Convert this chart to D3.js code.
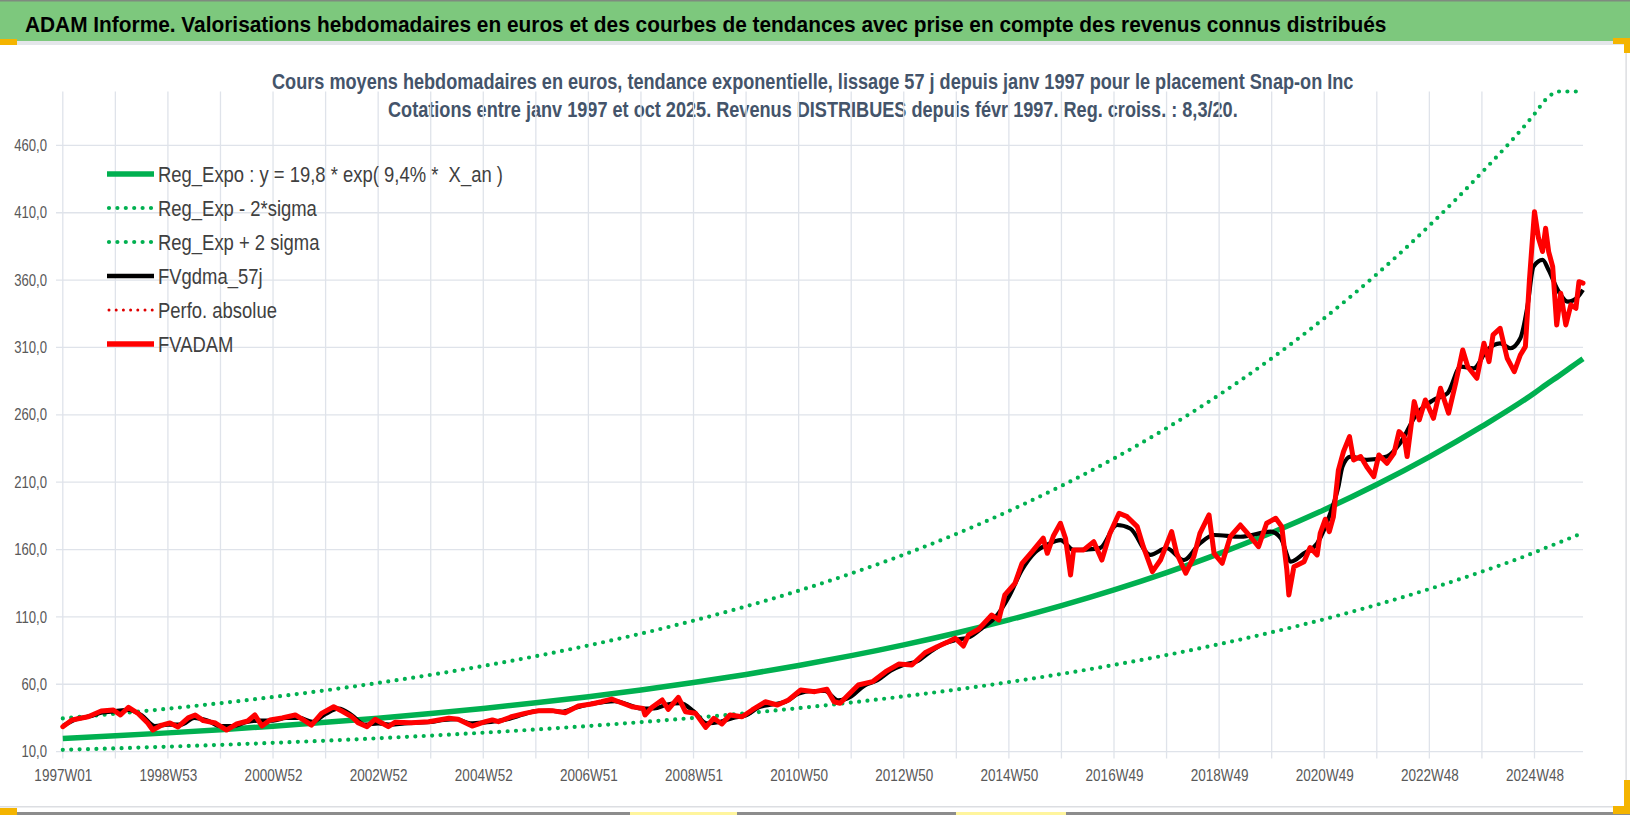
<!DOCTYPE html>
<html>
<head>
<meta charset="utf-8">
<script src="https://cdn.jsdelivr.net/npm/d3@7"></script>
<style>
  html, body { margin: 0; padding: 0; background: #fff; }
  svg { display: block; }
  text { font-family: "Liberation Sans", Arial, sans-serif; }
</style>
</head>
<body>
<div id="chart"></div>
<script>
// ---- data (x = week index since 1997W01) ----
const weekLabels = ["1997W01", "1998W53", "2000W52", "2002W52", "2004W52", "2006W51", "2008W51",
  "2010W50", "2012W50", "2014W50", "2016W49", "2018W49", "2020W49", "2022W48", "2024W48"];
const labelWeeks = weekLabels.map((d, i) => i * 104);
const gridWeeks = d3.range(0, 1457, 52);
const lastWeek = 1504;
const yTicks = [10, 60, 110, 160, 210, 260, 310, 360, 410, 460];

const trendWeeks = [0, 52, 104, 156, 208, 260, 312, 364, 416, 468, 520, 572, 624, 676, 728, 780,
  832, 884, 936, 988, 1040, 1092, 1144, 1196, 1248, 1300, 1352, 1404, 1456, 1468, 1480, 1492, 1504];
const regExpo = [19.8, 21.75, 23.9, 26.26, 28.85, 31.7, 34.83, 38.26, 42.04, 46.19, 50.75, 55.75,
  61.26, 67.3, 73.95, 81.24, 89.26, 98.07, 107.75, 118.39, 130.07, 142.91, 157.01, 172.51, 189.53,
  208.24, 228.79, 251.37, 276.19, 282.7, 288.9, 295.3, 301.7];
const regLow = [11.31, 12.43, 13.66, 15.01, 16.49, 18.11, 19.9, 21.86, 24.02, 26.39, 29.0, 31.86,
  35.01, 38.46, 42.26, 46.42, 51.01, 56.04, 61.57, 67.65, 74.33, 81.66, 89.72, 98.58, 108.3, 119.0,
  130.7, 143.6, 157.8, 161.5, 165.1, 168.7, 172.4];
const regHigh = [34.65, 38.06, 41.83, 45.96, 50.49, 55.48, 60.95, 66.96, 73.57, 80.83, 88.81, 97.56,
  107.2, 117.8, 129.4, 142.2, 156.2, 171.6, 188.6, 207.2, 227.6, 250.1, 274.8, 301.9, 331.7, 364.4,
  400.4, 439.9, 483.3, 494.7, 505.6, 516.8, 528.0];

const fvadam = [[0,28.5],[9,33.5],[25,35.9],[38,40.1],[50,40.9],[57,37.2],[65,42.9],[74,38.6],[84,31.2],
  [89,26],[98,29.7],[106,31.2],[114,28.3],[124,35],[131,37.2],[139,33],[151,31.2],[162,26],[172,30.5],
  [183,32.7],[190,37.2],[197,29],[205,33.5],[217,35],[230,37.2],[238,33.5],[246,29.7],[256,38.4],
  [268,43.3],[276,40.1],[286,35.9],[292,31.5],[301,28.5],[309,34],[322,28.5],[329,31.8],[345,31.5],
  [362,32.2],[382,34.7],[391,34],[405,29],[418,32.2],[425,33.5],[431,32.2],[444,35.9],[457,38.4],
  [471,40.4],[484,40.4],[497,38.9],[510,43.9],[523,45.3],[533,47],[543,49],[550,47],[563,43.3],
  [574,42.1],[576,37.2],[583,42.9],[593,48.3],[599,41.4],[609,50.3],[616,39.6],[626,38.4],[636,28],
  [644,34.7],[652,30.5],[660,37.2],[672,35.9],[682,40.9],[695,47],[707,44.6],[718,48.3],[730,55.7],
  [744,54.5],[756,56.3],[763,47],[769,45.9],[777,52],[787,59.4],[801,61.9],[814,69.3],[827,75],
  [840,74.3],[853,83.4],[865,87.9],[876,91.6],[883,94.1],[891,88.4],[896,96.6],[906,100.8],[919,111.4],
  [926,107.7],[932,126.3],[942,134.9],[949,149.8],[959,158.4],[970,168.4],[974,157.2],[980,170],
  [987,179.5],[992,168.4],[997,141.1],[1000,159.7],[1010,159.7],[1020,165.8],[1028,152.2],[1036,172],
  [1045,186.9],[1053,184.4],[1063,177],[1069,162.1],[1078,143.6],[1086,152.2],[1097,173.3],[1102,157.2],
  [1111,142.4],[1119,154.7],[1125,172],[1134,185.7],[1139,157.2],[1147,149.8],[1155,169.5],[1165,178.2],
  [1175,169.5],[1183,162.1],[1191,179.5],[1200,183.2],[1206,177],[1211,144.8],[1213,126.3],[1218,147.3],
  [1228,151],[1234,161.5],[1241,156],[1244,172],[1249,182.5],[1253,173.3],[1257,184],[1262,219],
  [1267,232.6],[1273,243.8],[1277,226.5],[1284,229],[1290,221.5],[1297,214.1],[1302,230.2],[1310,224],
  [1317,231.5],[1322,247.5],[1327,243.8],[1330,229],[1337,269.8],[1342,256.2],[1348,271],[1356,257.4],
  [1363,279.7],[1371,261.2],[1378,283.4],[1385,308.1],[1390,295.7],[1399,287.1],[1406,313.1],
  [1411,299.5],[1415,319.3],[1422,324.2],[1429,302],[1436,292],[1442,304.4],[1447,310.6],[1451,360],
  [1456,410.8],[1460,391],[1464,381.2],[1467,398.5],[1470,381.2],[1474,370],[1478,326.7],[1482,350.2],
  [1487,326.7],[1492,341.6],[1497,339.1],[1500,358.8],[1504,357.7]];

const fvgdma = [[0,29],[13,34],[26,36],[39,39],[52,40],[65,41],[78,37],[91,29],[104,30],[117,30],
  [130,35],[143,33],[156,29],[169,29],[182,32],[195,33],[208,33],[221,35],[234,35],[247,32],[260,38],
  [273,42],[286,37],[299,30],[312,31],[325,30],[338,31],[351,31.5],[364,32],[377,33.5],[390,34],
  [403,31],[416,31.5],[429,32.5],[442,34.5],[455,37.5],[468,40],[481,40.5],[494,39.5],[507,42.5],
  [520,45],[533,46.5],[546,47.5],[559,45],[572,42],[585,42],[598,45],[611,46],[624,40],[637,31],
  [650,32],[663,35],[676,37],[689,43],[702,45],[715,47],[728,53],[741,55],[754,55],[767,48],[780,51],
  [793,59],[806,63],[819,70],[832,74.5],[845,77],[858,84],[871,90],[884,93],[897,95],[910,102],
  [923,110],[936,125],[949,145],[962,158],[975,164],[987,167],[1000,159.7],[1013,160],[1026,161],
  [1043,178.2],[1056,175.6],[1076,156],[1092,161],[1109,152.2],[1125,164.6],[1139,170.8],[1165,169.5],
  [1195,173.3],[1205,168.4],[1215,151],[1228,157.2],[1241,164.6],[1254,186.9],[1262,206.7],[1266,221.5],
  [1274,229],[1290,226.5],[1310,229],[1323,238.9],[1340,261.2],[1356,271],[1370,276],[1383,295.7],
  [1396,294.5],[1409,308.1],[1422,313.1],[1432,309.4],[1442,316.8],[1449,340.3],[1455,370],[1464,375],
  [1470,367.5],[1479,352.7],[1489,344],[1499,347.7],[1504,352.7]];

const legendItems = [
  { label: "Reg_Expo : y = 19,8 * exp( 9,4% *  X_an )", color: "#00b050", width: 5.5, dash: null },
  { label: "Reg_Exp - 2*sigma", color: "#00b050", width: 4.2, dash: "0 8.4" },
  { label: "Reg_Exp + 2 sigma", color: "#00b050", width: 4.2, dash: "0 8.4" },
  { label: "FVgdma_57j", color: "#000000", width: 4.5, dash: null },
  { label: "Perfo. absolue", color: "#e00000", width: 3, dash: "0 7.2" },
  { label: "FVADAM", color: "#ff0000", width: 5.5, dash: null },
];

// ---- layout ----
const W = 1630, H = 815;
const plotLeft = 62.8, plotRight = 1583, plotTop = 91.5, plotBottom = 751.6;
const narrow = "scale(0.82,1)"; // Liberation Sans squeezed to the narrow look of the original

const svg = d3.select("#chart").append("svg").attr("width", W).attr("height", H);

// squeeze a text so it spans exactly `width` px, anchored at (x, y)
function fitText(sel, x, y, width) {
  const natural = sel.node().getComputedTextLength();
  sel.attr("x", 0).attr("y", 0)
    .attr("transform", `translate(${x},${y}) scale(${width / natural},1)`);
}

// Frame and header bar
svg.append("rect").attr("x", 0).attr("y", 0).attr("width", W).attr("height", H).attr("fill", "#ffffff");
svg.append("rect").attr("x", 0).attr("y", 0).attr("width", W).attr("height", 41).attr("fill", "#7dc87d");
svg.append("rect").attr("x", 0).attr("y", 0).attr("width", W).attr("height", 1.5).attr("fill", "#7f8a7f");
svg.append("rect").attr("x", 0).attr("y", 41).attr("width", W).attr("height", 4).attr("fill", "#e4e6ea");
svg.append("rect").attr("x", 0).attr("y", 806).attr("width", 1626).attr("height", 1.5).attr("fill", "#dcdee2");
svg.append("rect").attr("x", 0).attr("y", 812).attr("width", W).attr("height", 3).attr("fill", "#8c8c8c");
svg.append("rect").attr("x", 1625.5).attr("y", 45).attr("width", 1.2).attr("height", 762).attr("fill", "#d4d6da");

// small selection handles seen on the original
const handles = [
  [0, 39, 17, 6, "#f4b400"], [1613, 38, 17, 6, "#f4b400"], [1624, 38, 6, 15, "#f4b400"],
  [0, 808, 17, 7, "#f4b400"], [1624, 780, 6, 34, "#f4b400"], [1613, 806, 17, 8, "#f4b400"],
  [630, 812, 107, 3, "#fff59d"], [956, 812, 110, 3, "#fff59d"],
];
svg.selectAll(".handle").data(handles).enter().append("rect")
  .attr("class", "handle")
  .attr("x", d => d[0]).attr("y", d => d[1]).attr("width", d => d[2]).attr("height", d => d[3])
  .attr("fill", d => d[4]);

const title = svg.append("text")
  .style("font-size", "21.5px").style("font-weight", "bold").attr("fill", "#000")
  .text("ADAM Informe. Valorisations hebdomadaires en euros et des courbes de tendances avec prise en compte des revenus connus distribués");
fitText(title, 25, 31.5, 1362);

// Chart subtitle (two lines, centred)
const subtitle = [
  { text: "Cours moyens hebdomadaires en euros, tendance exponentielle, lissage 57 j depuis janv 1997 pour le placement Snap-on Inc", x: 272, y: 89, len: 1082 },
  { text: "Cotations entre janv 1997 et oct 2025. Revenus DISTRIBUES depuis févr 1997. Reg. croiss. : 8,3/20.", x: 388, y: 117, len: 850 },
];
subtitle.forEach(d => {
  const t = svg.append("text")
    .style("font-size", "21.5px").style("font-weight", "bold").attr("fill", "#44546a")
    .text(d.text);
  fitText(t, d.x, d.y, d.len);
});

// ---- scales ----
const x = d3.scaleLinear().domain([0, lastWeek]).range([plotLeft, plotRight]);
const y = d3.scaleLinear().domain([10, 500]).range([plotBottom, plotTop]).clamp(true);

// Gridlines
const grid = svg.append("g").attr("stroke", "#dfe3ea").attr("stroke-width", 1.3);
grid.selectAll(".hgrid").data(yTicks).enter().append("line")
  .attr("x1", 56).attr("x2", plotRight)
  .attr("y1", d => y(d)).attr("y2", d => y(d));
grid.selectAll(".vgrid").data(gridWeeks).enter().append("line")
  .attr("x1", d => x(d)).attr("x2", d => x(d))
  .attr("y1", plotTop).attr("y2", plotBottom + 7);

// Axes (labels only)
const yAxis = d3.axisLeft(y).tickValues(yTicks)
  .tickFormat(d => d3.format(".1f")(d).replace(".", ","))
  .tickSize(0).tickPadding(0);
svg.append("g").attr("transform", "translate(47,0)").call(yAxis)
  .call(g => g.select(".domain").remove())
  .selectAll("text").style("font-size", "16px").attr("fill", "#595959")
  .style("font-family", "'Liberation Sans', Arial, sans-serif")
  .attr("transform", narrow);

const xAxis = d3.axisBottom(x).tickValues(labelWeeks)
  .tickFormat((d, i) => weekLabels[i]).tickSize(0).tickPadding(0);
svg.append("g").attr("transform", "translate(0,769)").call(xAxis)
  .call(g => g.select(".domain").remove())
  .selectAll("text").style("font-size", "16.5px").attr("fill", "#595959")
  .style("font-family", "'Liberation Sans', Arial, sans-serif")
  .attr("transform", narrow);

// ---- series ----
const trendLine = (values) => d3.line()
  .x((d, i) => x(trendWeeks[i]))
  .y((d) => y(d))
  .curve(d3.curveMonotoneX)(values);

const pairLine = (curve) => d3.line().x(d => x(d[0])).y(d => y(d[1])).curve(curve);

svg.append("path").attr("d", trendLine(regExpo))
  .attr("fill", "none").attr("stroke", "#00b050").attr("stroke-width", 5.5);

[regLow, regHigh].forEach(values => {
  svg.append("path").attr("d", trendLine(values))
    .attr("fill", "none").attr("stroke", "#00b050").attr("stroke-width", 4.2)
    .attr("stroke-linecap", "round").attr("stroke-dasharray", "0 8.4");
});

svg.append("path").attr("d", pairLine(d3.curveMonotoneX)(fvgdma))
  .attr("fill", "none").attr("stroke", "#000").attr("stroke-width", 4.2)
  .attr("stroke-linejoin", "round");

svg.append("path").attr("d", pairLine(d3.curveLinear)(fvadam))
  .attr("fill", "none").attr("stroke", "#ff0000").attr("stroke-width", 5)
  .attr("stroke-linejoin", "round").attr("stroke-linecap", "round");

// ---- legend ----
const legend = svg.append("g").attr("transform", "translate(107,174)");
const rows = legend.selectAll(".row").data(legendItems).enter().append("g")
  .attr("class", "row")
  .attr("transform", (d, i) => `translate(0,${i * 34})`);
rows.append("line")
  .attr("x1", d => d.dash ? 2 : 0).attr("x2", 47).attr("y1", 0).attr("y2", 0)
  .attr("stroke", d => d.color).attr("stroke-width", d => d.width)
  .attr("stroke-linecap", d => d.dash ? "round" : "butt")
  .attr("stroke-dasharray", d => d.dash);
rows.append("text")
  .attr("transform", `translate(51,8) ${narrow}`)
  .style("font-size", "22.5px").style("white-space", "pre").attr("fill", "#404040")
  .text(d => d.label);
</script>
</body>
</html>
